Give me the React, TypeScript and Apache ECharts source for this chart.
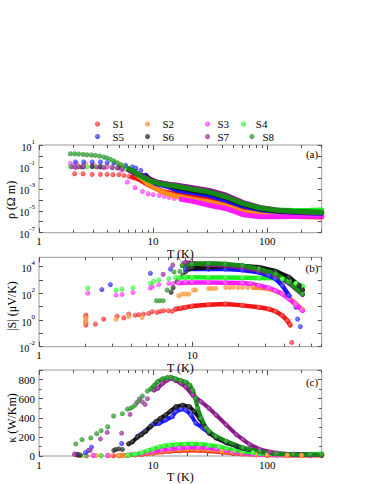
import React, { useEffect, useRef } from 'react';
import * as echarts from 'echarts';

const FONT = 'Liberation Serif, Times New Roman, serif';
const TICK = '#555555';
const FRAME = '#9a9a9a';

const SAMPLES = ['S1', 'S2', 'S3', 'S4', 'S5', 'S6', 'S7', 'S8'];
const COLORS = ['#f01414', '#ff8a1c', '#ff1cff', '#1cf01c', '#1414ff', '#111111', '#8a1a8a', '#158a15'];
const LIGHTS = ['#ff6a6a', '#ffb070', '#ff80ff', '#80ff80', '#6a6aff', '#555555', '#b060b0', '#50b050'];

// x-axis tick values (temperature, K)
const X_LABELS_AC = [1, 10, 100];
const X_MAJOR_AC = [1, 10, 100];
const X_MINOR_AC = [2, 3, 4, 5, 6, 7, 8, 9, 20, 30, 40, 50, 60, 70, 80, 90, 200, 300];
const X_LABELS_B = [1, 10];
const X_MAJOR_B = [1, 10];
const X_MINOR_B = [2, 3, 4, 5, 6, 7, 8, 9, 20, 30, 40, 50, 60, 70];
const Y_TICKS_A = [1e-7, 1e-6, 1e-5, 1e-4, 1e-3, 1e-2, 1e-1, 1, 10];
const Y_LABELS_A = [1e-7, 1e-5, 1e-3, 1e-1, 10];
const Y_TICKS_B = [1e-2, 1e-1, 1, 10, 100, 1e3, 1e4];
const Y_LABELS_B = [1e-2, 1, 100, 1e4];

// ---------- panel (a): resistivity rho (Ohm m) vs T ----------
const RHO_S1 = [[2.05,0.024],[2.43,0.024],[2.92,0.021],[3.45,0.021],[3.95,0.021],[4.44,0.0195],[5.01,0.0195],[5.55,0.017],[6.14,0.0138],[6.58,0.012],[7.03,0.0098],[7.53,0.0074],[8.06,0.0049],[8.62,0.0032],[9.54,0.0018],[10.6,0.00105],[12.1,5.9e-4],[13.8,4.5e-4],[15.8,3.2e-4],[22.3,1.8e-4],[31,1.1e-4],[43.8,4.5e-5],[61.5,1.2e-5],[86.3,5.0e-6],[121,3.4e-6],[170,3.0e-6],[238,2.8e-6],[300,2.7e-6]];
const RHO_S2 = [[2.15,0.2],[2.55,0.2],[3.02,0.16],[3.95,0.12],[5.01,0.12],[5.94,0.069],[7.03,0.024],[8.06,0.0085],[8.92,0.003],[10.6,0.00105],[12.1,5.1e-4],[13.8,3.2e-4],[15.8,2.2e-4],[22.3,1.1e-4],[31,6.3e-5],[43.8,2.7e-5],[61.5,7.8e-6],[86.3,5.4e-6],[121,4.7e-6],[170,4.4e-6],[238,4.1e-6],[300,3.8e-6]];
const RHO_S3 = [[1.88,0.2],[2.08,0.12],[2.46,0.14],[2.92,0.12],[3.45,0.11],[3.95,0.1],[4.38,0.1],[5.01,0.087],[5.29,0.049],[5.94,0.0042],[6.94,0.0013],[8.06,5.9e-4],[9.04,3.6e-4],[10.0,3.0e-4],[11.3,2.6e-4],[12.5,2.1e-4],[13.8,1.7e-4],[15.3,1.35e-4],[17.6,1.1e-4],[22.3,7.2e-5],[31,3.2e-5],[43.8,1.55e-5],[61.5,4.4e-6],[86.3,2.9e-6],[121,2.9e-6],[170,3.0e-6],[238,3.1e-6],[300,3.1e-6]];
const RHO_S4 = [[1.88,0.11],[2.22,0.1],[2.63,0.1],[3.12,0.1],[3.7,0.1],[4.38,0.095],[5.01,0.085],[5.74,0.06],[6.58,0.035],[7.03,0.025],[8.06,0.011],[9.2,0.0058],[10.6,0.0035],[13.8,0.0019],[15.8,0.0015],[22.3,8.5e-4],[31,4.8e-4],[43.8,1.7e-4],[61.5,4.4e-5],[86.3,1.8e-5],[121,1.15e-5],[170,1.05e-5],[238,1.1e-5],[300,1.2e-5]];
const RHO_S5 = [[2.08,0.28],[2.46,0.28],[2.92,0.28],[3.45,0.28],[3.95,0.245],[4.53,0.23],[5.74,0.14],[6.58,0.1],[7.03,0.08],[7.79,0.049],[8.62,0.017],[9.2,0.0085],[10.6,0.003],[13.8,0.0015],[15.8,8.4e-4],[22.3,4.5e-4],[31,2.6e-4],[43.8,8.9e-5],[61.5,2.7e-5],[86.3,1.26e-5],[121,8.9e-6],[170,7.2e-6],[238,6.3e-6],[300,5.9e-6]];
const RHO_S6 = [[2.38,0.1],[2.92,0.11],[3.45,0.1],[5.01,0.1],[6.14,0.056],[7.03,0.035],[8.06,0.017],[9.2,0.0085],[10.6,0.0042],[13.8,0.0021],[15.8,0.0014],[22.3,7.2e-4],[31,4.5e-4],[43.8,1.5e-4],[61.5,3.9e-5],[86.3,1.55e-5],[121,1.0e-5],[170,8.3e-6],[238,7.2e-6],[300,6.8e-6]];
const RHO_S7 = [[1.94,0.105],[2.08,0.091],[2.22,0.105],[2.46,0.1],[3.23,0.1],[3.7,0.087],[4.38,0.087],[4.85,0.08],[5.37,0.069],[6.14,0.049],[7.03,0.024],[8.06,0.015],[9.2,0.0074],[10.6,0.0042],[13.8,0.0026],[15.8,0.0022],[22.3,0.0013],[31,7.2e-4],[43.8,2.6e-4],[61.5,5.5e-5],[86.3,2.0e-5],[121,1.2e-5],[170,8.3e-6],[238,6.8e-6],[300,6.3e-6]];
const RHO_S8 = [[1.88,1.6],[2.05,1.6],[2.22,1.5],[2.43,1.4],[2.63,1.3],[2.88,1.22],[3.12,1.15],[3.39,1.0],[3.7,0.81],[3.95,0.65],[4.23,0.49],[4.53,0.35],[4.85,0.245],[5.19,0.17],[5.55,0.12],[6.14,0.069],[7.03,0.03],[8.06,0.012],[9.2,0.006],[10.6,0.0036],[12.1,0.0026],[13.8,0.0021],[15.8,0.0017],[22.3,9.1e-4],[31,5.1e-4],[43.8,1.8e-4],[61.5,4.5e-5],[86.3,1.8e-5],[121,1.1e-5],[170,8.9e-6],[238,7.8e-6],[300,7.2e-6]];
// temperature range [from, to] where each sample's points are dense (drawn as a continuous band)
const RHO_DENSE = [[6.5,300],[7,300],[17.6,300],[7,300],[8.6,300],[8,300],[6,300],[6,300]];

// ---------- panel (b): |S| (uV/K) vs T ----------
const SEE_S1 = [[2.02,2.3],[2.02,1.8],[2.02,0.67],[2.02,0.42],[2.33,0.5],[2.64,1.19],[3.23,1.9],[3.57,1.45],[3.85,2.8],[4.25,2.3],[4.47,2.5],[4.8,2.8],[5.2,3.1],[5.47,4.2],[5.9,3.8],[6.2,4.5],[6.5,5.0],[7.0,5.0],[7.4,4.6],[7.8,6.6],[8.4,7.6],[9.04,9.0],[10,11],[12.8,14],[16.5,15.8],[21.3,12.5],[27.3,8.9],[31.7,6.6],[35.1,4.4],[38.8,2.1],[41.8,0.89],[43.6,0.42],[44.6,0.021]];
const SEE_S2 = [[2.02,1.58],[2.02,1.19],[2.02,0.89],[2.02,0.67],[3.18,1.19],[3.85,1.8],[4.7,1.58],[8.17,67],[8.6,89],[9.04,89],[9.5,89],[10.2,180],[10.5,180],[12.8,230],[13.4,230],[14.2,240],[16.5,280],[17.5,280],[18.5,290],[20,280],[21.3,280],[23,280],[25,275],[27.3,265],[31.7,220],[35.1,150],[38.8,95],[42.9,45],[47.5,17],[52.5,6]];
const SEE_S3 = [[2.08,105],[3.18,74],[3.48,83],[4.1,118],[5.33,250],[5.47,334],[6.04,445],[7.03,560],[7.5,560],[8.17,600],[9.04,630],[10,640],[12.8,640],[16.5,630],[21.3,600],[24,520],[27.3,374],[31.7,250],[35.1,158],[38.8,89],[42.9,37],[47.5,14],[52.5,5]];
const SEE_S4 = [[2.08,250],[3.18,178],[3.48,210],[4.1,265],[5.33,560],[5.6,800],[6.04,1000],[7.03,1260],[7.78,1580],[8.17,1500],[9.04,1580],[10,1580],[12.8,1550],[16.5,1500],[21.3,1450],[27.3,1400],[35.1,1350],[38.8,1200],[42.9,890],[47.5,560],[52.5,334]];
const SEE_S5 = [[2.57,190],[2.92,450],[5.33,3150],[7.21,6650],[9.04,6650],[12.8,6650],[16.5,6650],[21.3,5600],[27.3,3740],[31.7,2100],[35.1,1180],[38.8,374],[42.9,67],[47.5,8.9],[48.7,1.19],[50.7,0.32]];
const SEE_S6 = [[7.28,120],[7.5,260],[7.96,740],[8.7,2340],[9.06,4200],[9.5,6650],[10,8000],[12.8,8900],[16.5,11000],[21.3,11000],[27.3,8900],[35.1,4500],[42.9,1580],[49.9,374],[52.5,180]];
const SEE_S7 = [[6.46,2680],[7.46,13200],[8.73,17800],[9.04,20000],[10,17800],[12.8,14000],[16.5,12000],[21.3,8900],[27.3,5000],[35.1,2100],[42.9,560],[52.5,80]];
const SEE_S8 = [[5.84,28],[6.14,28],[6.46,28],[6.86,178],[7.6,4000],[8.3,4450],[8.6,11800],[10,15800],[12.8,18000],[16.5,15800],[21.3,11800],[27.3,6650],[35.1,2800],[42.9,665],[52.5,89]];
const SEE_DENSE = [[7.8,43.6],[25,52.5],[8.17,52.5],[8.17,52.5],[9.04,42.9],[9.5,52.5],[9.04,52.5],[8.6,52.5]];

// ---------- panel (c): kappa (W/Km) vs T ----------
const KAP_S1 = [[2.2,5],[2.6,3],[3.0,8],[3.5,4],[4.0,5],[4.5,3],[5.0,5],[6.0,8],[7.0,12],[8.0,18],[9.0,25],[10,32],[12,42],[14,50],[17,55],[20,58],[25,58],[30,52],[40,40],[50,28],[60,20],[80,12],[100,8],[150,6],[200,5],[300,5]];
const KAP_S2 = [[2.3,4],[3.2,6],[4.2,4],[5.0,6],[6.0,10],[7,15],[8,22],[9,30],[10,38],[12,50],[14,58],[17,65],[20,70],[25,70],[30,64],[40,50],[50,36],[60,26],[80,16],[100,11],[150,8],[200,7],[300,7]];
const KAP_S3 = [[2.05,22],[2.2,15],[3.0,5],[4.0,4],[5.0,5],[6,10],[7,18],[8,28],[9,38],[10,48],[12,62],[14,72],[17,82],[20,88],[25,88],[30,82],[36,72],[44,58],[52,42],[61.5,30],[75,20],[86,15],[121,11],[170,10],[238,10],[300,10]];
const KAP_S4 = [[2.5,5],[3.5,4],[5.0,3],[6,8],[7,20],[8,35],[9,55],[10,75],[11.3,95],[12.5,108],[14,115],[16,120],[19,125],[22,127],[26,125],[31,113],[38,97],[44,79],[52,62],[61.5,45],[75,33],[86,24],[121,18],[170,17],[238,20],[300,24]];
const KAP_S5 = [[2.2,17],[2.55,35],[2.7,59],[2.88,93],[5.29,131],[7.3,206],[8.5,260],[9.8,326],[11.3,343],[12.9,378],[14.7,412],[15.8,464],[17.6,491],[19.4,481],[21.5,429],[23.7,343],[27.3,292],[31,241],[35.7,189],[43.8,140],[61.5,80],[86.3,45],[121,24],[170,17],[238,12],[300,10]];
const KAP_S6 = [[2.15,17],[2.3,10],[4.53,59],[4.7,69],[5.0,75],[5.37,69],[6.1,127],[6.58,148],[7.3,199],[7.9,223],[8.62,258],[9.5,309],[10.6,361],[11.6,395],[12.9,429],[14.2,470],[15.8,515],[18.2,532],[20.8,515],[23,464],[25.5,395],[28.2,309],[31,241],[35.7,189],[43.8,138],[53.7,103],[61.5,79],[86.3,45],[121,24],[170,17],[300,10]];
const KAP_S7 = [[2.05,17],[2.8,60],[3.45,180],[3.95,248],[5.29,240],[6.27,436],[7.2,560],[7.6,600],[8.06,567],[8.5,540],[8.9,600],[10.2,690],[11,710],[12.1,760],[13.3,795],[14.5,815],[15.8,790],[17.5,760],[19.4,721],[22.3,635],[26.4,567],[31,498],[35.7,429],[43.8,326],[53.7,223],[61.5,172],[70.4,120],[86.3,69],[106,42],[121,31],[170,17],[238,10],[300,10]];
const KAP_S8 = [[2.1,127],[2.38,172],[2.84,189],[3.2,234],[3.5,265],[4.0,306],[4.5,419],[5.37,443],[5.94,491],[6.27,498],[6.58,512],[6.94,532],[7.5,580],[8.06,628],[8.9,680],[9.5,700],[10.2,738],[10.9,776],[12.1,807],[13.3,820],[14.3,824],[15.8,807],[17.5,790],[19.4,773],[21,740],[22.3,687],[23.5,600],[24.6,498],[26.4,395],[29.2,292],[31,258],[35.7,206],[43.8,155],[61.5,86],[86.3,45],[121,24],[170,17],[238,14],[300,13]];
const KAP_DENSE = [[5,300],[5,300],[6,300],[6,300],[7.3,300],[6.1,300],[10.2,300],[9.5,300]];

const RHO = [RHO_S1, RHO_S2, RHO_S3, RHO_S4, RHO_S5, RHO_S6, RHO_S7, RHO_S8];
const SEE = [SEE_S1, SEE_S2, SEE_S3, SEE_S4, SEE_S5, SEE_S6, SEE_S7, SEE_S8];
const KAP = [KAP_S1, KAP_S2, KAP_S3, KAP_S4, KAP_S5, KAP_S6, KAP_S7, KAP_S8];

function sphere(i: number) {
  return {
    type: 'radial', x: 0.4, y: 0.38, r: 0.65,
    colorStops: [{ offset: 0, color: LIGHTS[i] }, { offset: 1, color: COLORS[i] }],
  };
}

function panelSeries(data: number[][][], dense: number[][], xi: number, yi: number, bandWidth: number, bandSymbols: boolean) {
  const out: any[] = [];
  SAMPLES.forEach((name, i) => {
    const [lo, hi] = dense[i];
    const pts = data[i];
    const sparse = pts.filter((p) => p[0] < lo || p[0] > hi);
    const cont = pts.filter((p) => p[0] >= lo && p[0] <= hi);
    out.push({
      type: 'scatter', name, xAxisIndex: xi, yAxisIndex: yi, data: sparse,
      symbol: 'circle', symbolSize: 5, itemStyle: { color: sphere(i) }, silent: true,
    });
    out.push({
      type: 'line', name, xAxisIndex: xi, yAxisIndex: yi, data: cont,
      symbol: 'circle', symbolSize: 5, showSymbol: bandSymbols, showAllSymbol: true,
      lineStyle: { color: COLORS[i], width: bandWidth, cap: 'round', join: 'round' },
      itemStyle: { color: sphere(i) }, silent: true,
    });
  });
  return out;
}

const labelFont = { fontFamily: FONT, fontSize: 11, color: '#000' };

function xAxes(gridIndex: number, min: number, max: number, labels: number[], majors: number[], minors: number[]) {
  const common = {
    type: 'log', logBase: 10, gridIndex, min, max,
    axisLine: { show: false }, splitLine: { show: false },
  };
  return [
    {
      ...common, position: 'bottom',
      axisTick: { show: true, inside: true, length: 5, customValues: majors, lineStyle: { color: TICK } },
      axisLabel: { show: true, customValues: labels, margin: 3, ...labelFont, formatter: (v: number) => String(Math.round(v)) },
      name: 'T (K)', nameLocation: 'middle', nameGap: 15, nameTextStyle: { ...labelFont, fontSize: 12 },
    },
    { ...common, position: 'bottom', axisTick: { show: true, inside: true, length: 3, customValues: minors, lineStyle: { color: TICK } }, axisLabel: { show: false } },
    { ...common, position: 'top', axisTick: { show: true, inside: true, length: 5, customValues: majors, lineStyle: { color: TICK } }, axisLabel: { show: false } },
    { ...common, position: 'top', axisTick: { show: true, inside: true, length: 3, customValues: minors, lineStyle: { color: TICK } }, axisLabel: { show: false } },
  ];
}

const powRich = {
  b: { fontFamily: FONT, fontSize: 10, color: '#000', padding: [4, 0, 0, 0], verticalAlign: 'bottom' },
  s: { fontFamily: FONT, fontSize: 7, color: '#000', verticalAlign: 'top' },
};

function logYAxes(gridIndex: number, min: number, max: number, ticks: number[], labels: number[]) {
  const common = { type: 'log', logBase: 10, gridIndex, min, max, axisLine: { show: false }, splitLine: { show: false } };
  return [
    {
      ...common, position: 'left',
      axisTick: { show: true, inside: true, length: 4, customValues: ticks, lineStyle: { color: TICK } },
      axisLabel: {
        show: true, customValues: labels, margin: 4,
        formatter: (v: number) => `{b|10}{s|${Math.round(Math.log10(v))}}`, rich: powRich,
      },
    },
    { ...common, position: 'right', axisTick: { show: true, inside: true, length: 4, customValues: ticks, lineStyle: { color: TICK } }, axisLabel: { show: false } },
  ];
}

function linYAxes(gridIndex: number) {
  const common = {
    type: 'value', gridIndex, min: 0, max: 900, interval: 200,
    axisLine: { show: false }, splitLine: { show: false },
    axisTick: { show: true, inside: true, length: 4, lineStyle: { color: TICK } },
    minorTick: { show: true, splitNumber: 2, length: 2.5, lineStyle: { color: TICK } },
  };
  return [
    { ...common, position: 'left', axisLabel: { show: true, margin: 4, ...labelFont } },
    { ...common, position: 'right', axisLabel: { show: false } },
  ];
}

// legend item layout: [left, top, itemWidth]
const LEGEND_POS = [[95, 118.5, 20], [145, 118.5, 20], [205, 118.5, 10], [240.8, 118.5, 15], [95, 131, 20], [145, 131, 20], [205, 131, 10], [249.3, 131, 11.4]];

function yTitle(text: string, x: number, y: number) {
  return {
    type: 'text', x, y, rotation: Math.PI / 2,
    style: { text, fontFamily: FONT, fontSize: 12, fill: '#000', align: 'center', verticalAlign: 'middle' },
  };
}
function panelTag(text: string, x: number, y: number) {
  return { type: 'text', x, y, style: { text, fontFamily: FONT, fontSize: 11, fill: '#000', align: 'center', verticalAlign: 'middle' } };
}

export default function App() {
  const ref = useRef<HTMLDivElement>(null);
  useEffect(() => {
    if (!ref.current) return;
    const chart = echarts.init(ref.current, null, { renderer: 'svg' });
    const gridCommon = { show: true, borderColor: FRAME, borderWidth: 1, backgroundColor: 'transparent', left: 39, width: 282.7 };
    const option: any = {
      animation: false,
      textStyle: { fontFamily: FONT },
      grid: [
        { ...gridCommon, top: 145, height: 87.7 },
        { ...gridCommon, top: 257.3, height: 89.4 },
        { ...gridCommon, top: 370, height: 87.7 },
      ],
      xAxis: [
        ...xAxes(0, 1, 300, X_LABELS_AC, X_MAJOR_AC, X_MINOR_AC),
        ...xAxes(1, 1, 70, X_LABELS_B, X_MAJOR_B, X_MINOR_B),
        ...xAxes(2, 1, 300, X_LABELS_AC, X_MAJOR_AC, X_MINOR_AC),
      ],
      yAxis: [
        ...logYAxes(0, 1e-7, 10, Y_TICKS_A, Y_LABELS_A),
        ...logYAxes(1, 1e-2, 5e4, Y_TICKS_B, Y_LABELS_B),
        ...linYAxes(2),
      ],
      legend: SAMPLES.map((name, i) => ({
        data: [name], left: LEGEND_POS[i][0], top: LEGEND_POS[i][1],
        itemWidth: LEGEND_POS[i][2], itemHeight: 5, icon: 'circle', padding: 0,
        selectedMode: false, textStyle: { ...labelFont },
      })),
      graphic: [
        yTitle('ρ (Ω m)', 11, 200),
        yTitle('|S| (μV/K)', 12, 306),
        yTitle('κ (W/Km)', 12, 418),
        panelTag('(a)', 312, 154),
        panelTag('(b)', 312, 268),
        panelTag('(c)', 312, 382),
      ],
      series: [
        ...panelSeries(RHO, RHO_DENSE, 0, 0, 5, false),
        ...panelSeries(SEE, SEE_DENSE, 4, 2, 4.5, true),
        ...panelSeries(KAP, KAP_DENSE, 8, 4, 4, true),
      ],
    };
    chart.setOption(option);
    return () => chart.dispose();
  }, []);
  return <div ref={ref} style={{ position: 'absolute', left: 0, top: 0, width: 374, height: 484 }} />;
}
